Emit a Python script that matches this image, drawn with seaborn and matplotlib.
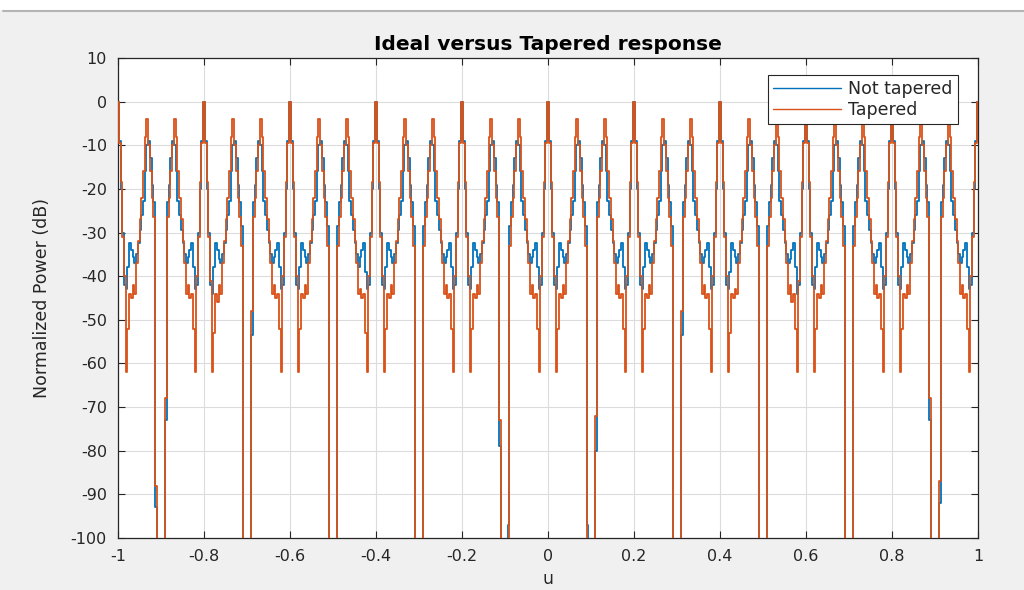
import numpy as np
import pandas as pd
import matplotlib
matplotlib.use("Agg")
import matplotlib.pyplot as plt
import matplotlib.colors as mcolors
from matplotlib.patches import Rectangle
from matplotlib.lines import Line2D
import seaborn as sns

# ---------------- data ----------------
# sample grid of the direction cosine u (step 0.004, -1 .. 1)
u = np.linspace(-1.0, 1.0, 501)

# Tapered response (dB), one row per 0.2-wide lobe group, main lobe first
tapered_db = (
    [0, -9.5, -18.5, -31, -40, -62, -52, -44, -45, -42, -44, -37, -32, -27, -22, -16, -8, -4, -10, -16, -22, -26.5, -88, -120, -120,
     -120, -120, -120, -68, -26.5, -22, -16, -10, -4, -8, -16, -22, -27, -32, -37, -44, -42, -45, -44, -52, -62, -40, -31, -18.5, -9.5]
    + [0, -9.5, -18.5, -31, -41, -62, -53, -44, -46, -42, -44, -37, -32, -27, -22, -16, -8, -4, -10, -16, -22, -26.5, -33, -120, -120,
       -120, -120, -120, -48, -26.5, -22, -16, -10, -4, -8, -16, -22, -27, -32, -37, -44, -42, -45, -44, -52, -62, -40, -31, -18.5, -9.5]
    + [0, -9.5, -18.5, -31, -40, -62, -52, -44, -45, -42, -44, -37, -32, -27, -22, -16, -8, -4, -10, -16, -22, -26.5, -33, -120, -120,
       -120, -120, -120, -33, -26.5, -22, -16, -10, -4, -8, -16, -22, -27, -32, -37, -44, -43, -45, -44, -53, -62, -40, -31, -18.5, -9.5]
    + [0, -9.5, -18.5, -31, -40, -62, -52, -44, -45, -42, -44, -37, -32, -27, -22, -16, -8, -4, -10, -16, -22, -26.5, -33, -120, -120,
       -120, -120, -120, -33, -26.5, -22, -16, -10, -4, -8, -16, -22, -27, -32, -37, -44, -42, -45, -44, -52, -62, -40, -31, -18.5, -9.5]
    + [0, -9.5, -18.5, -31, -40, -62, -52, -44, -45, -42, -44, -37, -32, -27, -22, -16, -8, -4, -10, -16, -22, -26.5, -73, -120, -120,
       -120, -120, -120, -33, -26.5, -22, -16, -10, -4, -8, -16, -22, -27, -32, -37, -44, -42, -45, -44, -52, -62, -40, -31, -18.5, -9.5]
    + [0, -9.5, -18.5, -31, -40, -62, -52, -44, -45, -42, -44, -37, -32, -27, -22, -16, -8, -4, -10, -16, -22, -26.5, -33, -120, -120,
       -120, -120, -120, -72, -26.5, -22, -16, -10, -4, -8, -16, -22, -27, -32, -37, -44, -42, -45, -44, -52, -62, -40, -31, -18.5, -9.5]
    + [0, -9.5, -18.5, -31, -40, -62, -52, -44, -45, -42, -44, -37, -32, -27, -22, -16, -8, -4, -10, -16, -22, -26.5, -33, -120, -120,
       -120, -120, -120, -48, -26.5, -22, -16, -10, -4, -8, -16, -22, -27, -32, -37, -44, -42, -45, -44, -52, -62, -40, -31, -18.5, -9.5]
    + [0, -9.5, -18.5, -31, -40, -62, -53, -44, -45, -43, -44, -37, -32, -27, -22, -16, -8, -4, -10, -16, -22, -26.5, -33, -120, -120,
       -120, -120, -120, -33, -26.5, -22, -16, -10, -4, -8, -16, -22, -27, -32, -37, -44, -42, -46, -44, -52, -62, -41, -31, -18.5, -9.5]
    + [0, -9.5, -18.5, -31, -40, -62, -52, -44, -45, -42, -44, -37, -32, -27, -22, -16, -8, -4, -10, -16, -22, -26.5, -33, -120, -120,
       -120, -120, -120, -33, -26.5, -22, -16, -10, -4, -8, -16, -22, -27, -32, -37, -44, -42, -45, -44, -52, -62, -40, -31, -18.5, -9.5]
    + [0, -9.5, -18.5, -31, -40, -62, -52, -44, -45, -42, -44, -37, -32, -27, -22, -16, -8, -4, -10, -16, -22, -26.5, -68, -120, -120,
       -120, -120, -120, -87, -26.5, -22, -16, -10, -4, -8, -16, -22, -27, -32, -37, -44, -42, -45, -44, -52, -62, -40, -31, -18.5, -9.5]
    + [0]
)

# Not tapered response (dB)
not_tapered_db = (
    [0, -9, -20, -30, -42, -43, -38, -32.5, -34, -35.5, -37, -35, -32.5, -29.5, -26, -22.7, -16, -10, -9, -13, -19, -23, -93, -120, -120,
     -120, -120, -120, -73, -23, -19, -13, -9, -10, -16, -22.7, -26, -29.5, -32.5, -35, -37, -35.5, -34, -32.5, -38, -43, -42, -30, -20, -9]
    + [0, -9, -20, -30, -42, -44, -38, -32.5, -34, -36, -37, -35, -32.5, -29.5, -26, -22.7, -16, -10, -9, -13, -19, -23, -28.5, -120, -120,
       -120, -120, -120, -53.5, -23, -19, -13, -9, -10, -16, -22.7, -26, -29.5, -32.5, -35, -37, -35.5, -34, -32.5, -38, -43, -42, -30, -20, -9]
    + [0, -9, -20, -30, -42, -43, -38, -32.5, -34, -35.5, -37, -35, -32.5, -29.5, -26, -22.7, -16, -10, -9, -13, -19, -23, -28.5, -120, -120,
       -120, -120, -120, -28.5, -23, -19, -13, -9, -10, -16, -22.7, -26, -29.5, -32.5, -35, -38, -35.5, -34, -32.5, -39, -43, -42, -30, -20, -9]
    + [0, -9, -20, -30, -42, -43, -38, -32.5, -34, -35.5, -37, -35, -32.5, -29.5, -26, -22.7, -16, -10, -9, -13, -19, -23, -28.5, -120, -120,
       -120, -120, -120, -28.5, -23, -19, -13, -9, -10, -16, -22.7, -26, -29.5, -32.5, -35, -37, -35.5, -34, -32.5, -38, -43, -42, -30, -20, -9]
    + [0, -9, -20, -30, -42, -43, -38, -32.5, -34, -35.5, -37, -35, -32.5, -29.5, -26, -22.7, -16, -10, -9, -13, -19, -23, -79, -120, -120,
       -120, -120, -97, -28.5, -23, -19, -13, -9, -10, -16, -22.7, -26, -29.5, -32.5, -35, -37, -35.5, -34, -32.5, -38, -43, -42, -30, -20, -9]
    + [0, -9, -20, -30, -42, -43, -38, -32.5, -34, -35.5, -37, -35, -32.5, -29.5, -26, -22.7, -16, -10, -9, -13, -19, -23, -28.5, -97, -120,
       -120, -120, -120, -80, -23, -19, -13, -9, -10, -16, -22.7, -26, -29.5, -32.5, -35, -37, -35.5, -34, -32.5, -38, -43, -42, -30, -20, -9]
    + [0, -9, -20, -30, -42, -43, -38, -32.5, -34, -35.5, -37, -35, -32.5, -29.5, -26, -22.7, -16, -10, -9, -13, -19, -23, -28.5, -120, -120,
       -120, -120, -120, -53.5, -23, -19, -13, -9, -10, -16, -22.7, -26, -29.5, -32.5, -35, -37, -35.5, -34, -32.5, -38, -43, -42, -30, -20, -9]
    + [0, -9, -20, -30, -42, -43, -39, -32.5, -34, -35.5, -37, -35, -32.5, -29.5, -26, -22.7, -16, -10, -9, -13, -19, -23, -28.5, -120, -120,
       -120, -120, -120, -28.5, -23, -19, -13, -9, -10, -16, -22.7, -26, -29.5, -32.5, -35, -37, -36, -34, -32.5, -38, -44, -42, -30, -20, -9]
    + [0, -9, -20, -30, -42, -43, -38, -32.5, -34, -35.5, -37, -35, -32.5, -29.5, -26, -22.7, -16, -10, -9, -13, -19, -23, -28.5, -120, -120,
       -120, -120, -120, -28.5, -23, -19, -13, -9, -10, -16, -22.7, -26, -29.5, -32.5, -35, -37, -35.5, -34, -32.5, -38, -43, -42, -30, -20, -9]
    + [0, -9, -20, -30, -42, -43, -38, -32.5, -34, -35.5, -37, -35, -32.5, -29.5, -26, -22.7, -16, -10, -9, -13, -19, -23, -73, -120, -120,
       -120, -120, -120, -92, -23, -19, -13, -9, -10, -16, -22.7, -26, -29.5, -32.5, -35, -37, -35.5, -34, -32.5, -38, -43, -42, -30, -20, -9]
    + [0]
)

series_names = ["Not tapered", "Tapered"]
series_colors = ["#0072BD", "#D95319"]
x_ticks = [-1, -0.8, -0.6, -0.4, -0.2, 0, 0.2, 0.4, 0.6, 0.8, 1]
x_tick_labels = ["-1", "-0.8", "-0.6", "-0.4", "-0.2", "0", "0.2", "0.4", "0.6", "0.8", "1"]
y_ticks = list(range(-100, 11, 10))

# ---------------- table ----------------
df = pd.DataFrame({
    "u": np.concatenate([u, u]),
    "power": np.concatenate([np.array(not_tapered_db, float), np.array(tapered_db, float)]),
    "series": [series_names[0]] * len(u) + [series_names[1]] * len(u),
})

# ---------------- figure ----------------
sns.set_style("ticks")
plt.rcParams["font.family"] = ["DejaVu Sans"]
plt.rcParams["axes.unicode_minus"] = False

fig = plt.figure(figsize=(10.24, 5.90), dpi=100, facecolor="#f0f0f0")
ax = fig.add_axes([118 / 1024, 1 - 538 / 590, 860 / 1024, 480 / 590])
ax.set_facecolor("white")

sns.lineplot(data=df, x="u", y="power", hue="series", hue_order=series_names,
             palette=series_colors, estimator=None, sort=False,
             drawstyle="steps-mid", linewidth=1.3, ax=ax)

# tapered curve drawn above the untapered one
for ln in ax.lines:
    if mcolors.to_hex(ln.get_color()).lower() == series_colors[1].lower():
        ln.set_zorder(3)
    else:
        ln.set_zorder(2)

ax.set_xlim(-1, 1)
ax.set_ylim(-100, 10)
ax.set_xticks(x_ticks)
ax.set_xticklabels(x_tick_labels)
ax.set_yticks(y_ticks)
ax.grid(True, color="#dcdcdc", linewidth=0.8)
ax.set_axisbelow(True)
ax.tick_params(direction="in", length=5, width=0.8, color="#262626",
               labelsize=11.5, labelcolor="#262626", top=True, right=True, pad=8)
for s in ax.spines.values():
    s.set_color("#262626")
    s.set_linewidth(0.9)

ax.set_title("Ideal versus Tapered response", fontsize=14.5, fontweight="bold",
             color="#000000", pad=6)
ax.set_ylabel("Normalized Power (dB)", fontsize=12.5, color="#262626", labelpad=14)
ax.set_xlabel("u", fontsize=12.5, color="#262626", labelpad=4)

handles, labels = ax.get_legend_handles_labels()
leg = ax.legend(handles, labels, loc="upper right", bbox_to_anchor=(0.9767, 0.9646),
                borderaxespad=0, fontsize=12.5, frameon=True, fancybox=False,
                framealpha=1, edgecolor="#262626", handlelength=3.9,
                handletextpad=0.45, borderpad=0.3, labelspacing=0.15)
leg.get_frame().set_linewidth(0.8)
for line in leg.get_lines():
    line.set_linewidth(1.0)

# window chrome at the top
fig.patches.append(Rectangle((0, 1 - 10 / 590), 1, 10 / 590, transform=fig.transFigure,
                             facecolor="white", edgecolor="none", zorder=0))
fig.add_artist(Line2D([3 / 1024, 1], [1 - 10.5 / 590, 1 - 10.5 / 590],
                      transform=fig.transFigure, color="#b4b4b4", linewidth=1.5))

fig.savefig("out.png", dpi=100, facecolor=fig.get_facecolor())
